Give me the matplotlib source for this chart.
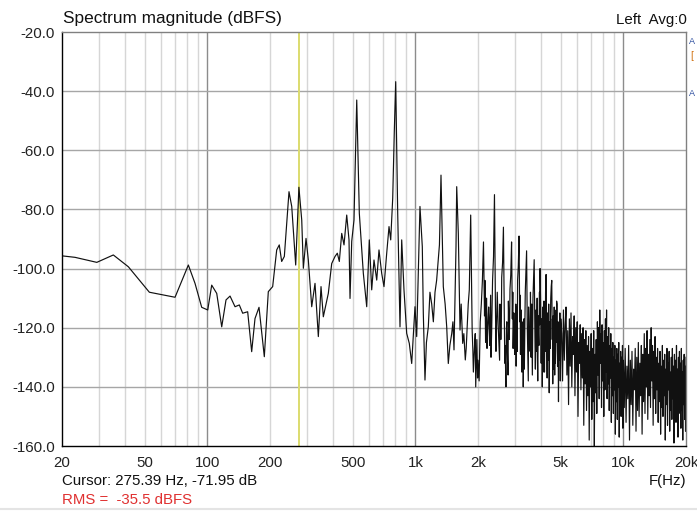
"""Spectrum magnitude plot (dBFS) with cursor readout."""

import matplotlib

matplotlib.use("Agg")
import matplotlib.pyplot as plt
from matplotlib.lines import Line2D
from matplotlib.ticker import FixedLocator, NullFormatter

# ---- data ----
LOW_FREQ = [
    20.0, 23.1, 29.4, 35.3, 41.7, 52.6, 69.9, 81.0, 87.2, 93.9,
    100.4, 104.9, 110.9, 117.2, 122.9, 128.5, 135.8, 142.4, 147.8, 156.2,
    163.3, 169.4, 177.1, 187.8, 196.3, 206.0, 215.4, 221.6, 227.6, 234.4,
    246.8, 254.4, 265.8, 275.4, 284.2, 289.3, 298.0, 305.7, 317.4, 329.2,
    341.5, 351.8, 360.9, 381.4, 396.0, 410.8, 421.4, 430.8, 442.4, 453.8,
    467.6, 479.6, 485.0, 494.2, 506.8, 522.4, 537.6, 562.0, 583.4, 600.4,
    616.6, 632.4, 651.8, 668.4, 688.6, 706.4, 728.0, 746.8, 761.0, 778.0,
    791.8, 804.2, 822.2, 843.4, 859.4, 881.4, 908.2, 934.8, 960.0, 995.6,
    1014.6, 1052.0, 1079.6, 1091.6,
    1112.0, 1130.0, 1153.8, 1175.0, 1198.0, 1220.0, 1242.6, 1265.0, 1288.6, 1305.0,
    1327.8, 1362.2, 1390.0, 1414.4, 1439.6, 1465.0, 1495.0, 1515.0, 1533.4, 1550.0,
    1567.8, 1580.0, 1608.4, 1639.0, 1660.0, 1688.4, 1710.0, 1737.6, 1755.0, 1776.6,
    1795.0, 1816.4, 1844.6,
]
LOW_DB = [
    -95.7, -96.2, -97.9, -95.4, -99.4, -108.0, -109.7, -98.8, -105.0, -113.1,
    -114.0, -105.6, -108.4, -119.7, -110.6, -109.3, -112.9, -112.3, -115.1, -114.6,
    -128.1, -116.9, -113.1, -129.8, -107.8, -106.1, -93.7, -92.0, -97.6, -95.9,
    -74.0, -79.0, -98.8, -72.5, -83.6, -99.9, -89.8, -97.1, -112.9, -105.0,
    -123.0, -106.1, -116.3, -108.4, -98.3, -95.9, -94.8, -97.6, -88.1, -92.0,
    -81.9, -90.3, -110.1, -90.8, -83.6, -43.0, -81.3, -101.6, -112.9, -90.3,
    -107.2, -97.1, -103.9, -93.7, -101.6, -106.1, -94.8, -85.8, -90.3, -76.2,
    -53.7, -36.8, -81.3, -119.7, -90.3, -107.2, -121.9, -125.3, -132.1, -112.9,
    -123.0, -79.0, -92.6, -115.0,
    -137.7, -125.0, -119.7, -108.0, -112.0, -118.0, -108.0, -104.0, -97.1, -92.0,
    -68.4, -106.1, -112.0, -119.7, -132.1, -126.0, -122.0, -118.0, -127.5, -110.0,
    -92.6, -72.3, -88.1, -120.8, -112.0, -125.3, -122.0, -130.9, -127.0, -118.5,
    -112.0, -107.2, -81.9,
]

MID_FREQ = [
    1875, 1900, 1925, 1950, 1975, 2000, 2025, 2050, 2075, 2100,
    2125, 2150, 2175, 2200, 2225, 2250, 2275, 2300, 2325, 2350,
    2375, 2400, 2425, 2450, 2475, 2500, 2525, 2550, 2575, 2600,
    2625, 2650, 2675, 2700, 2725, 2750, 2775, 2800, 2825, 2850,
    2875, 2900, 2925, 2950, 2975, 3000, 3025, 3050, 3075, 3100,
    3125, 3150, 3175, 3200, 3225, 3250, 3275, 3300, 3325, 3350,
    3375, 3400, 3425, 3450, 3475, 3500, 3525,
]
MID_DB = [
    -121, -135, -126, -140, -124, -131, -138, -118, -112, -104,
    -91, -116, -125, -110, -121, -113, -126, -109, -122, -104,
    -96, -75, -112, -123, -108, -119, -127, -112, -124, -103,
    -98, -86, -114, -126, -140, -118, -131, -111, -124, -107,
    -102, -91, -117, -127, -115, -129, -121, -133, -113, -104,
    -99, -89, -118, -129, -114, -135, -122, -140, -117, -127,
    -108, -101, -94, -119, -131, -113, -126,
]

# extra in-between bins of the noisy 1.9k-5k stretch
FILL_FREQ = [
    1890, 1940, 1990, 2040, 2160, 2210, 2260, 2310, 2340, 2440,
    2490, 2540, 2590, 2690, 2740, 2790, 2840, 2940, 2990, 3040,
    3090, 3190, 3240, 3290, 3340, 3440, 3490, 3515,
    3560, 3610, 3660, 3760, 3810, 3860, 3910, 3960, 4040, 4110,
    4160, 4210, 4310, 4360, 4410, 4460, 4560, 4610, 4660, 4710,
    4760, 4840, 4890, 4940, 4990,
]
FILL_DB = [
    -128, -122, -137, -126, -104, -127, -117, -130, -112, -128,
    -115, -131, -118, -132, -120, -136, -117, -108, -122, -112,
    -128, -109, -124, -118, -134, -112, -138, -118,
    -128, -118, -124, -126, -120, -130, -122, -119, -124, -135,
    -121, -128, -124, -120, -130, -116, -117, -134, -122, -132,
    -125, -126, -131, -124, -128,
]

HIGH_FREQ = [
    3550, 3575, 3600, 3625, 3650, 3675, 3700, 3725, 3750, 3775,
    3800, 3825, 3850, 3875, 3900, 3925, 3950, 3975, 4000, 4025,
    4050, 4075, 4100, 4125, 4150, 4175, 4200, 4225, 4250, 4275,
    4300, 4325, 4350, 4375, 4400, 4425, 4450, 4475, 4500, 4525,
    4550, 4575, 4600, 4625, 4650, 4675, 4700, 4725, 4750, 4775,
    4800, 4825, 4850, 4875, 4900, 4925, 4950, 4975, 5000,
    5050, 5100, 5150, 5200, 5250, 5300, 5350, 5400, 5450, 5500,
    5550, 5600, 5650, 5700, 5750, 5800, 5850, 5900, 5950, 6000,
    6050, 6100, 6150, 6200, 6250, 6300, 6350, 6400, 6450, 6500,
    6550, 6600, 6650, 6700, 6750, 6800, 6850, 6900, 6950, 7000,
    7050, 7100, 7150, 7200, 7250, 7300, 7350, 7400, 7450, 7500,
    7550, 7600, 7650, 7700, 7750, 7800, 7850, 7900, 7950, 8000,
    8050, 8100, 8150, 8200, 8250, 8300, 8350, 8400, 8450, 8500,
    8550, 8600, 8650, 8700, 8750, 8800, 8850, 8900, 8950, 9000,
    9050, 9100, 9150, 9200, 9250, 9300, 9350, 9400, 9450, 9500,
    9550, 9600, 9650, 9700, 9750, 9800, 9850, 9900, 9950, 10000,
    10100, 10200, 10300, 10400, 10500, 10600, 10700, 10800, 10900, 11000,
    11100, 11200, 11300, 11400, 11500, 11600, 11700, 11800, 11900, 12000,
    12100, 12200, 12300, 12400, 12500, 12600, 12700, 12800, 12900, 13000,
    13100, 13200, 13300, 13400, 13500, 13600, 13700, 13800, 13900, 14000,
    14100, 14200, 14300, 14400, 14500, 14600, 14700, 14800, 14900, 15000,
    15100, 15200, 15300, 15400, 15500, 15600, 15700, 15800, 15900, 16000,
    16100, 16200, 16300, 16400, 16500, 16600, 16700, 16800, 16900, 17000,
    17100, 17200, 17300, 17400, 17500, 17600, 17700, 17800, 17900, 18000,
    18100, 18200, 18300, 18400, 18500, 18600, 18700, 18800, 18900, 19000,
    19100, 19200, 19300, 19400, 19500, 19600, 19700, 19800, 19900, 20000,
]
HIGH_DB = [
    -122, -108, -130, -112, -136, -110, -104, -97, -118, -134,
    -114, -128, -110, -138, -116, -126, -108, -100, -112, -132,
    -117, -140, -113, -129, -111, -135, -114, -108, -102, -121,
    -137, -115, -131, -112, -142, -118, -127, -110, -106, -104,
    -124, -139, -116, -130, -113, -136, -119, -128, -114, -111,
    -112, -133, -118, -145, -120, -131, -115, -138, -117,
    -122, -138, -114, -131, -119, -113, -136, -121, -146, -117,
    -133, -115, -140, -123, -129, -116, -143, -120, -135, -118,
    -150, -125, -132, -119, -141, -122, -137, -120, -153, -124,
    -139, -121, -148, -126, -143, -123, -158, -128, -140, -122,
    -151, -127, -145, -121, -160, -129, -142, -124, -149, -118,
    -136, -120, -144, -114, -132, -122, -147, -119, -138, -125,
    -150, -121, -141, -117, -135, -114, -144, -123, -139, -120,
    -148, -126, -137, -122, -152, -127, -143, -125, -149, -130,
    -141, -126, -156, -131, -145, -127, -151, -129, -140, -125,
    -157, -132, -146, -128, -150, -130, -142, -126, -154, -131,
    -147, -127, -152, -133, -144, -126, -158, -131, -146, -128,
    -153, -134, -141, -127, -155, -130, -148, -125, -150, -132,
    -143, -126, -156, -129, -145, -122, -149, -127, -140, -121,
    -151, -129, -143, -124, -147, -120, -138, -126, -153, -128,
    -144, -123, -149, -130, -141, -127, -152, -132, -145, -128,
    -156, -133, -147, -126, -150, -131, -143, -129, -158, -134,
    -146, -127, -153, -132, -141, -128, -155, -135, -148, -130,
    -151, -127, -144, -133, -159, -129, -147, -131, -152, -126,
    -145, -134, -157, -130, -149, -128, -143, -132, -154, -127,
    -148, -135, -158, -131, -146, -129, -151, -133, -155, -130,
]

CURSOR_FREQ = 275.39
CURSOR_DB = -71.95
RMS_DBFS = -35.5

X_MAJOR = [20, 50, 100, 200, 500, 1000, 2000, 5000, 10000, 20000]
X_LABELS = ["20", "50", "100", "200", "500", "1k", "2k", "5k", "10k", "20k"]
X_DECADES = [100, 1000, 10000]
X_MINOR = [30, 40, 50, 60, 70, 80, 90, 200, 300, 400, 500, 600, 700, 800, 900,
           2000, 3000, 4000, 5000, 6000, 7000, 8000, 9000]
Y_TICKS = [-20, -40, -60, -80, -100, -120, -140, -160]

FONT = ["Liberation Sans", "DejaVu Sans"]


def main() -> None:
    plt.rcParams["font.family"] = FONT
    fig = plt.figure(figsize=(6.97, 5.11), dpi=100)
    ax = fig.add_axes([62 / 697, 1 - 446 / 511, 624 / 697, 414 / 511])

    points = sorted(zip(LOW_FREQ + MID_FREQ + FILL_FREQ + HIGH_FREQ,
                        LOW_DB + MID_DB + FILL_DB + HIGH_DB))
    freq = [p[0] for p in points]
    level = [p[1] for p in points]

    ax.set_xscale("log")
    ax.set_xlim(20, 20000)
    ax.set_ylim(-160, -20)

    for f in X_MINOR:
        ax.axvline(f, color="#d6d6d6", lw=1.0, zorder=0)
    for f in X_DECADES:
        ax.axvline(f, color="#8c8c8c", lw=1.0, zorder=0)
    for y in Y_TICKS[1:-1]:
        ax.axhline(y, color="#a6a6a6", lw=1.0, zorder=0)

    ax.axvline(CURSOR_FREQ, color="#dcdc6e", lw=1.4, zorder=1)
    ax.plot(freq, level, color="#111111", lw=0.85, zorder=2)

    ax.xaxis.set_major_locator(FixedLocator(X_MAJOR))
    ax.set_xticklabels(X_LABELS)
    ax.xaxis.set_minor_formatter(NullFormatter())
    ax.xaxis.set_minor_locator(FixedLocator([]))
    ax.set_yticks(Y_TICKS)
    ax.set_yticklabels([f"{v:.1f}" for v in Y_TICKS])
    ax.tick_params(length=0, labelsize=10.8, colors="#222222", pad=5)
    ax.tick_params(axis="x", pad=7)

    for side in ("left", "bottom"):
        ax.spines[side].set_color("#000000")
    for side in ("top", "right"):
        ax.spines[side].set_color("#808080")
    for spine in ax.spines.values():
        spine.set_linewidth(1.0)

    fig.text(63 / 697, 1 - 18 / 511, "Spectrum magnitude (dBFS)",
             fontsize=12.4, va="center", ha="left", color="#111111")
    fig.text(687 / 697, 1 - 20 / 511, "Left  Avg:0",
             fontsize=10.8, va="center", ha="right", color="#111111")
    fig.text(62 / 697, 1 - 481 / 511,
             f"Cursor: {CURSOR_FREQ:.2f} Hz, {CURSOR_DB:.2f} dB",
             fontsize=10.8, va="center", ha="left", color="#111111")
    fig.text(62 / 697, 1 - 500 / 511, f"RMS =  {RMS_DBFS:.1f} dBFS",
             fontsize=10.8, va="center", ha="left", color="#e03030")
    fig.text(686 / 697, 1 - 481 / 511, "F(Hz)",
             fontsize=10.8, va="center", ha="right", color="#111111")

    # small legend glyphs squeezed against the right edge
    fig.text(689 / 697, 1 - 41 / 511, "A", fontsize=6.5, va="center", ha="left", color="#3050a0")
    fig.text(690 / 697, 1 - 56 / 511, "[", fontsize=7, va="center", ha="left", color="#d07010")
    fig.text(689 / 697, 1 - 94 / 511, "A", fontsize=6.5, va="center", ha="left", color="#3050a0")

    fig.add_artist(Line2D([0, 1], [2 / 511, 2 / 511], color="#e4e4e4", lw=1.5))

    fig.savefig("out.png", dpi=100)
    plt.close(fig)


if __name__ == "__main__":
    main()
